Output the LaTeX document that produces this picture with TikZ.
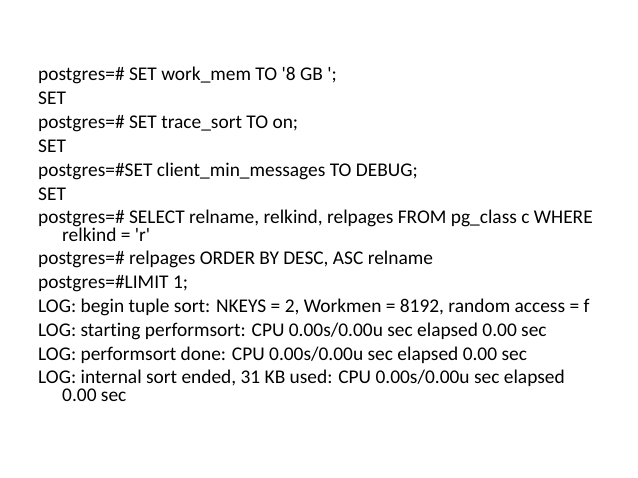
\documentclass[tikz,border=0pt]{standalone}
\usepackage{fontspec}
\setmainfont{Carlito}[Ligatures=NoCommon]
\newcommand{\q}{\textquotesingle}
\begin{document}
\begin{tikzpicture}[x=1pt,y=-1pt,line/.style={anchor=base west,inner sep=0pt,font=\fontsize{19.4}{22}\selectfont}]
\useasboundingbox (0,0) rectangle (638,478);
\node[line] (l1) at (38,81) {postgres=\# SET work\_mem TO \q8 GB \q;};
\node[line] (l2) at (38,105) {SET};
\node[line] (l3) at (38,129) {postgres=\# SET trace\_sort TO on;};
\node[line] (l4) at (38,153) {SET};
\node[line] (l5) at (38,177) {postgres=\#SET client\_min\_messages TO DEBUG;};
\node[line] (l6) at (38,201) {SET};
\node[line] (l7) at (38,224) {postgres=\# SELECT relname, relkind, relpages FROM pg\_class c WHERE};
\node[line] (l7b) at (62,242) {relkind = \q r\q};
\node[line] (l8) at (38,265) {postgres=\# relpages ORDER BY DESC, ASC relname};
\node[line] (l9) at (38,289) {postgres=\#LIMIT 1;};
\node[line] (l10) at (38,313) {LOG: begin tuple sort: NKEYS = 2, Workmen = 8192, random access = f};
\node[line] (l11) at (38,337) {LOG: starting performsort: CPU 0.00s/0.00u sec elapsed 0.00 sec};
\node[line] (l12) at (38,361) {LOG: performsort done: CPU 0.00s/0.00u sec elapsed 0.00 sec};
\node[line] (l13) at (38,384) {LOG: internal sort ended, 31 KB used: CPU 0.00s/0.00u sec elapsed};
\node[line] (l13b) at (62,402) {0.00 sec};
\end{tikzpicture}
\end{document}
